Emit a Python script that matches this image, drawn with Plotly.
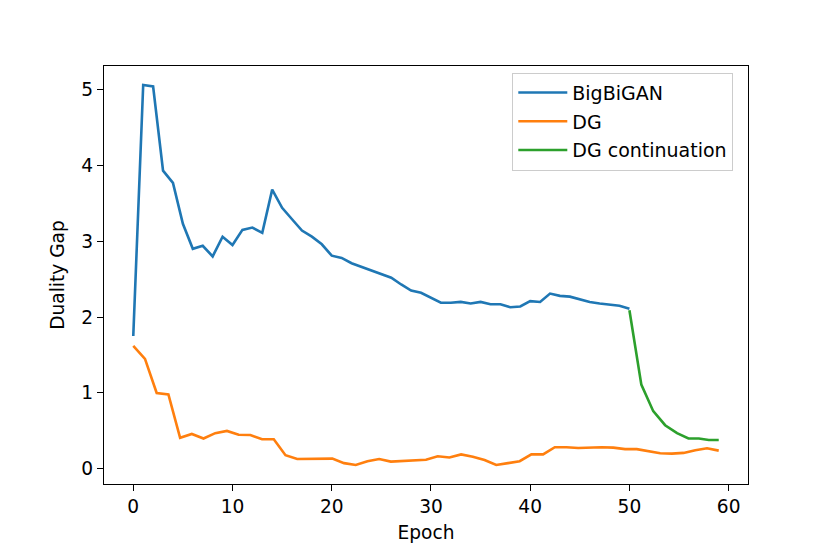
import plotly.graph_objects as go

# BigBiGAN: epochs 0..50
bigbigan_epochs = list(range(51))
bigbigan_gap = [1.75, 5.06, 5.04, 3.93, 3.77, 3.23, 2.90, 2.94, 2.80, 3.06,
                2.95, 3.15, 3.18, 3.11, 3.68, 3.44, 3.29, 3.14, 3.06, 2.96,
                2.81, 2.78, 2.71, 2.66, 2.62, 2.56, 2.52, 2.43, 2.35, 2.32,
                2.26, 2.19, 2.19, 2.20, 2.18, 2.20, 2.17, 2.17, 2.13, 2.14,
                2.21, 2.20, 2.31, 2.28, 2.27, 2.23, 2.20, 2.18, 2.17, 2.15,
                2.11]

# DG: 51 points spread over epochs 0..59
dg_epochs = [round(i * 59 / 50, 3) for i in range(51)]
dg_gap = [1.62, 1.45, 1.00, 0.98, 0.41, 0.46, 0.40, 0.47, 0.50, 0.45,
          0.445, 0.39, 0.39, 0.18, 0.13, 0.13, 0.13, 0.135, 0.075, 0.05,
          0.10, 0.13, 0.095, 0.105, 0.11, 0.12, 0.165, 0.15, 0.19, 0.16,
          0.115, 0.05, 0.075, 0.10, 0.19, 0.19, 0.285, 0.285, 0.275, 0.28,
          0.285, 0.28, 0.26, 0.26, 0.23, 0.205, 0.20, 0.21, 0.245, 0.27,
          0.24]

# DG continuation
cont_epochs = [50, 51.2, 52.4, 53.6, 54.8, 55.95, 57, 58, 59]
cont_gap = [2.09, 1.11, 0.76, 0.575, 0.47, 0.40, 0.40, 0.38, 0.38]

x_ticks = [0, 10, 20, 30, 40, 50, 60]
y_ticks = [0, 1, 2, 3, 4, 5]

FONT = "DejaVu Sans"
FS = 18.6

fig = go.Figure()
fig.add_trace(go.Scatter(x=bigbigan_epochs, y=bigbigan_gap, mode="lines",
                         name="BigBiGAN", legendgroup="a",
                         line=dict(color="#1f77b4", width=2.6)))
fig.add_trace(go.Scatter(x=dg_epochs, y=dg_gap, mode="lines",
                         name="DG", legendgroup="b",
                         line=dict(color="#ff7f0e", width=2.6)))
fig.add_trace(go.Scatter(x=cont_epochs, y=cont_gap, mode="lines",
                         name="DG continuation", legendgroup="c",
                         line=dict(color="#2ca02c", width=2.6)))

axis_common = dict(showline=True, mirror=True, linecolor="black", linewidth=1.3,
                   ticks="outside", ticklen=6, tickwidth=1.3, tickcolor="black",
                   showgrid=False, zeroline=False,
                   tickfont=dict(family=FONT, size=FS, color="black"))

fig.update_layout(
    width=822, height=546,
    margin=dict(l=96, r=82, t=58, b=70),
    paper_bgcolor="white", plot_bgcolor="white",
    font=dict(family=FONT, size=FS, color="black"),
    xaxis=dict(range=[-2.95, 61.95], tickvals=x_ticks,
               title=dict(text="Epoch", font=dict(family=FONT, size=FS), standoff=9),
               **axis_common),
    yaxis=dict(range=[-0.2, 5.31], tickvals=y_ticks,
               title=dict(text="Duality Gap", font=dict(family=FONT, size=FS), standoff=11),
               **axis_common),
    showlegend=True,
    legend=dict(x=0.634, y=0.984, xanchor="left", yanchor="top",
                bgcolor="rgba(255,255,255,0.8)", bordercolor="#cccccc", borderwidth=1,
                font=dict(family=FONT, size=19, color="black"),
                itemwidth=49,
                traceorder="grouped", tracegroupgap=1),
)

fig.write_html("out.html")
